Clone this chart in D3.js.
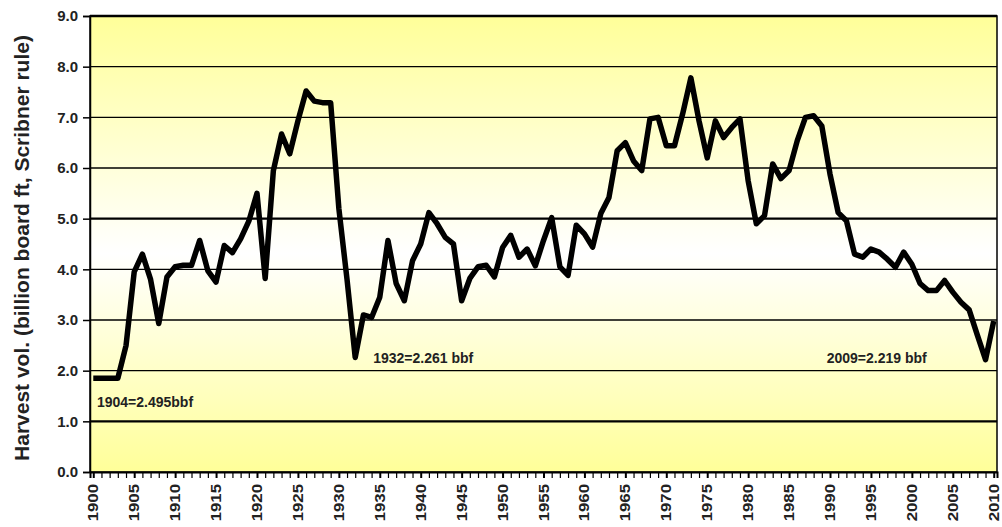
<!DOCTYPE html>
<html>
<head>
<meta charset="utf-8">
<script src="https://cdn.jsdelivr.net/npm/d3@7"></script>
<style>
  body { margin: 0; background: #fff; }
  svg { display: block; font-family: Arial, "Liberation Sans", sans-serif; }
</style>
</head>
<body>
<svg id="chart" width="1002" height="527"></svg>
<script>
// Harvest volume by year (billion board ft, Scribner rule)
var Years = d3.range(1900, 2011);
var Harvest = [
  1.85, 1.85, 1.85, 1.85, 2.495, 3.95, 4.3, 3.8, 2.93, 3.85,
  4.05, 4.08, 4.08, 4.57, 3.97, 3.75, 4.47, 4.33, 4.6, 4.95,
  5.5, 3.82, 5.95, 6.67, 6.28, 6.93, 7.52, 7.32, 7.29, 7.29,
  5.2, 3.8, 2.261, 3.1, 3.05, 3.45, 4.57, 3.72, 3.38, 4.17,
  4.5, 5.12, 4.9, 4.63, 4.5, 3.38, 3.82, 4.05, 4.08, 3.85,
  4.43, 4.67, 4.24, 4.4, 4.07, 4.57, 5.02, 4.05, 3.88, 4.87,
  4.7, 4.44, 5.1, 5.42, 6.34, 6.5, 6.14, 5.95, 6.97, 7.0,
  6.44, 6.44, 7.07, 7.78, 6.93, 6.2, 6.93, 6.6, 6.8, 6.97,
  5.75, 4.9, 5.06, 6.08, 5.79, 5.95, 6.54, 7.0, 7.03, 6.83,
  5.88, 5.12, 4.96, 4.3, 4.24, 4.4, 4.34, 4.2, 4.04, 4.34,
  4.1, 3.72, 3.58, 3.58, 3.78, 3.55, 3.35, 3.2, 2.7, 2.219,
  2.98
];
var YTicks = d3.range(0, 10);
var XLabels = d3.range(1900, 2011, 5);
var Notes = [
  { Text: "1904=2.495bbf", Year: 1900.45, Value: 1.28 },
  { Text: "1932=2.261 bbf", Year: 1934.2, Value: 2.15 },
  { Text: "2009=2.219 bbf", Year: 1989.6, Value: 2.15 }
];

var Svg = d3.select("#chart");
var Margin = { Left: 90, Right: 5, Top: 16, Bottom: 55 };
var Width = 1002 - Margin.Left - Margin.Right;
var Height = 527 - Margin.Top - Margin.Bottom;

var X = d3.scaleLinear().domain([1899.6, 2010.4]).range([0, Width]);
var Y = d3.scaleLinear().domain([0, 9]).range([Height, 0]);

// Background gradient: yellow - white - yellow
var Grad = Svg.append("defs").append("linearGradient")
  .attr("id", "bg").attr("x1", 0).attr("y1", 0).attr("x2", 0).attr("y2", 1);
Grad.append("stop").attr("offset", "0%").attr("stop-color", "#ffff99");
Grad.append("stop").attr("offset", "52%").attr("stop-color", "#ffffff");
Grad.append("stop").attr("offset", "100%").attr("stop-color", "#ffff99");

var Plot = Svg.append("g").attr("transform", `translate(${Margin.Left},${Margin.Top})`);
Plot.append("rect").attr("width", Width).attr("height", Height).attr("fill", "url(#bg)");

// Gridlines
Plot.append("g").selectAll("line").data(YTicks.filter(D => D > 0 && D < 9)).join("line")
  .attr("x1", 0).attr("x2", Width)
  .attr("y1", D => Y(D)).attr("y2", D => Y(D))
  .attr("stroke", "#000")
  .attr("stroke-width", D => (D == 5 || D == 1) ? 2.2 : 1.3);

// Border
Plot.append("rect").attr("width", Width).attr("height", Height)
  .attr("fill", "none").attr("stroke", "#000").attr("stroke-width", 1.5);
Plot.append("line").attr("x1", 0).attr("x2", Width).attr("y1", 0).attr("y2", 0)
  .attr("stroke", "#000").attr("stroke-width", 2.5);

// Y axis
var YAxis = Plot.append("g")
  .call(d3.axisLeft(Y).tickValues(YTicks).tickFormat(d3.format(".1f")).tickSize(7).tickPadding(5));
YAxis.select(".domain").attr("stroke-width", 1.5);
YAxis.selectAll(".tick line").attr("stroke-width", 1.5);
YAxis.selectAll("text").attr("font-size", 15).attr("font-weight", "bold").attr("fill", "#222");

// X axis: minor ticks every year, labels every 5 years
var XAxis = Plot.append("g").attr("transform", `translate(0,${Height})`)
  .call(d3.axisBottom(X).tickValues(Years).tickSize(6).tickFormat(""));
XAxis.select(".domain").attr("stroke-width", 2);
XAxis.selectAll(".tick line").attr("stroke-width", D => D % 5 == 0 ? 2 : 1.2);
Plot.append("g").selectAll("text").data(XLabels).join("text")
  .attr("transform", D => `translate(${X(D) + 5},${Height + 12}) rotate(-90) scale(1.2,1)`)
  .attr("text-anchor", "end")
  .attr("font-size", 14).attr("font-weight", "bold").attr("fill", "#222")
  .text(D => D);

// Y axis title
Svg.append("text")
  .attr("transform", `translate(29,${248}) rotate(-90)`)
  .attr("text-anchor", "middle")
  .attr("font-size", 21).attr("font-weight", "bold").attr("fill", "#222")
  .text("Harvest vol. (billion board ft, Scribner rule)");

// Series line
var Line = d3.line().x((D, I) => X(Years[I])).y(D => Y(D));
Plot.append("path").datum(Harvest)
  .attr("d", Line)
  .attr("fill", "none").attr("stroke", "#000")
  .attr("stroke-width", 5.5).attr("stroke-linejoin", "round");

// Annotations
Plot.append("g").selectAll("text").data(Notes).join("text")
  .attr("x", D => X(D.Year)).attr("y", D => Y(D.Value))
  .attr("font-size", 14).attr("font-weight", "bold").attr("fill", "#222")
  .text(D => D.Text);
</script>
</body>
</html>
